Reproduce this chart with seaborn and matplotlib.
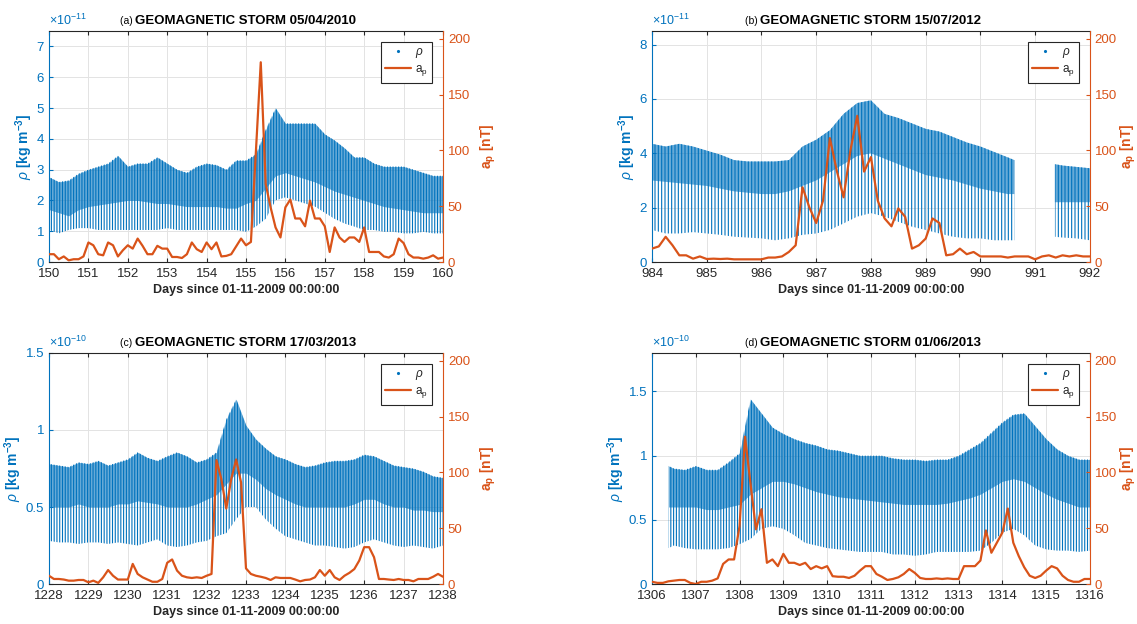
import numpy as np
import matplotlib

matplotlib.use("Agg")

import matplotlib.pyplot as plt
import seaborn as sns
from matplotlib.lines import Line2D
from matplotlib.ticker import FuncFormatter

# ---------------------------------------------------------------------------
# ap index, 3-hourly (nT)
# ---------------------------------------------------------------------------
AP_A_START = 150.0
AP_A = [
    7, 7, 2.5, 5, 1.5, 2.5, 2.5, 5,
    17.5, 15, 7, 6, 17.5, 15, 5, 10.5,
    15, 12, 21, 14.5, 7, 7, 14.5, 12,
    12, 4.5, 4.5, 3.6, 7, 17.5, 11.5, 9,
    17.5, 11.5, 17.5, 5, 5.5, 7, 14, 21,
    15, 18, 98, 179, 70, 49, 31, 22,
    49, 56, 39, 39, 32, 55, 39, 39,
    32, 9, 31, 22, 18, 22, 22, 18,
    31, 9, 9, 9, 5, 4, 7, 21,
    17, 7, 4, 4, 3, 4, 6, 3,
    4,
]
AP_B_START = 984.0
AP_B = [
    12, 14, 22.6, 15, 6, 6, 3, 5,
    2.7, 3, 2.7, 3, 2.4, 2.4, 2.4, 2.4,
    2.4, 4, 4, 5, 9, 15, 67, 49,
    35, 55, 111, 82, 58, 100, 131, 81,
    94, 55, 39, 32, 48, 40.5, 12, 15,
    21, 39, 35, 6, 7, 12, 7, 9,
    5, 5, 5, 5, 4, 5, 5, 5,
    2.4, 5, 6, 4, 6, 5, 6, 5,
    5,
]
AP_C_START = 1228.0
AP_C = [
    7.4, 4.5, 4.5, 4, 3, 3, 3.6, 3.6,
    1.5, 3, 1, 6, 12.5, 7.4, 4, 4,
    4, 18, 9, 6, 4, 2, 2, 4.5,
    19, 22, 12, 7.4, 6, 5.4, 6, 5.4,
    7.4, 9, 111, 94, 67.6, 94, 111.6, 91,
    14, 9, 7.4, 6.5, 5.4, 3.6, 6, 5.4,
    5.4, 5.4, 4, 2.4, 3.6, 4, 6, 12.5,
    7.4, 12.5, 6, 3.6, 7.4, 10, 13.4, 21,
    33, 33, 24, 4.5, 4.5, 4, 3.6, 4.5,
    3.6, 3.6, 2.4, 4.5, 4.5, 4.5, 6.5, 9,
    6.5,
]
AP_D_START = 1306.0
AP_D = [
    2, 1, 1, 2.4, 3, 3.6, 3.6, 1,
    0, 2, 2, 3, 5, 18, 22, 22,
    52, 132, 90, 49, 67, 19, 22, 16,
    27, 19, 19, 17, 19, 13.4, 16, 14,
    16, 7, 6.5, 6.5, 5.4, 7.4, 12, 16,
    16, 9, 6.5, 3.6, 4.5, 6, 9, 13.4,
    10, 5.4, 4.5, 4.5, 5, 4.5, 5, 4.5,
    4.5, 16, 16, 16, 21, 48, 28, 37,
    46, 67.6, 37, 25, 15, 7.4, 5.4, 7.4,
    12, 16, 14, 7.4, 3.6, 2, 2, 4.5,
    4.5,
]

# ---------------------------------------------------------------------------
# density envelopes (upper edge, lower edge of the dense core, lower edge of
# the orbit stripes), in units of the axis exponent
# ---------------------------------------------------------------------------
RHO_A_T = [150 + 0.25 * k for k in range(41)]
RHO_A_HI = [2.76, 2.6, 2.65, 2.87, 3.0, 3.1, 3.2, 3.45, 3.1, 3.2, 3.2, 3.4,
            3.2, 3.0, 2.9, 3.1, 3.2, 3.15, 3.0, 3.3, 3.3, 3.5, 4.3, 5.0, 4.5,
            4.5, 4.5, 4.5, 4.15, 3.95, 3.7, 3.4, 3.4, 3.2, 3.1, 3.1, 3.1, 3.0,
            2.9, 2.8, 2.8]
RHO_A_MID = [1.7, 1.6, 1.5, 1.7, 1.8, 1.85, 1.9, 1.95, 2.0, 2.0, 1.95, 1.9,
             1.9, 1.85, 1.8, 1.8, 1.8, 1.8, 1.75, 1.75, 1.9, 2.0, 2.4, 2.8,
             2.9, 2.8, 2.7, 2.6, 2.45, 2.3, 2.2, 2.1, 2.0, 1.9, 1.8, 1.75,
             1.7, 1.65, 1.6, 1.6, 1.6]
RHO_A_LO = [1.04, 0.93, 1.04, 1.1, 1.1, 1.04, 1.04, 1.04, 1.04, 1.04, 1.04,
            1.04, 1.1, 1.04, 1.04, 1.04, 1.04, 1.04, 1.04, 1.04, 0.98, 1.15,
            1.4, 2.0, 2.1, 2.0, 1.9, 1.8, 1.6, 1.4, 1.25, 1.15, 1.04, 1.04,
            0.98, 0.98, 0.93, 0.93, 0.98, 0.93, 0.93]

RHO_B_T = [984 + 0.25 * k for k in range(27)] + [990.62, 991.0, 991.36, 991.5, 991.75, 992.0]
RHO_B_HI = [4.35, 4.25, 4.35, 4.25, 4.1, 3.95, 3.75, 3.7, 3.7, 3.7, 3.75,
            4.25, 4.5, 4.85, 5.45, 5.85, 5.95, 5.45, 5.3, 5.1, 4.9, 4.8, 4.6,
            4.4, 4.25, 4.05, 3.85, 3.75, np.nan, 3.6, 3.55, 3.5, 3.45]
RHO_B_MID = [3.0, 2.95, 2.9, 2.85, 2.8, 2.7, 2.6, 2.55, 2.5, 2.5, 2.6, 2.8,
             3.0, 3.3, 3.6, 3.9, 4.0, 3.8, 3.6, 3.4, 3.2, 3.1, 3.0, 2.85,
             2.7, 2.6, 2.5, 2.5, np.nan, 2.2, 2.2, 2.2, 2.2]
RHO_B_LO = [1.18, 1.05, 1.05, 1.1, 1.05, 1.0, 0.93, 0.9, 0.87, 0.8, 0.87,
            1.0, 1.05, 1.18, 1.42, 1.67, 1.8, 1.67, 1.48, 1.3, 1.18, 1.05,
            0.93, 0.87, 0.87, 0.8, 0.8, 0.8, np.nan, 0.93, 0.9, 0.87, 0.8]

RHO_C_T = [1228 + 0.25 * k for k in range(41)]
RHO_C_HI = [0.78, 0.77, 0.76, 0.79, 0.78, 0.8, 0.77, 0.79, 0.81, 0.855, 0.82,
            0.8, 0.83, 0.855, 0.83, 0.79, 0.81, 0.855, 1.07, 1.2, 1.03, 0.94,
            0.88, 0.83, 0.81, 0.78, 0.76, 0.77, 0.79, 0.8, 0.8, 0.81, 0.84,
            0.83, 0.8, 0.77, 0.76, 0.75, 0.73, 0.70, 0.69]
RHO_C_MID = [0.5, 0.5, 0.5, 0.52, 0.5, 0.5, 0.5, 0.52, 0.52, 0.54, 0.53,
             0.52, 0.5, 0.5, 0.5, 0.52, 0.55, 0.58, 0.65, 0.72, 0.72, 0.68,
             0.62, 0.58, 0.55, 0.52, 0.5, 0.5, 0.5, 0.5, 0.5, 0.52, 0.55,
             0.55, 0.52, 0.5, 0.5, 0.48, 0.48, 0.47, 0.47]
RHO_C_LO = [0.28, 0.27, 0.27, 0.26, 0.27, 0.27, 0.26, 0.27, 0.26, 0.25, 0.27,
            0.29, 0.25, 0.24, 0.25, 0.27, 0.28, 0.31, 0.33, 0.42, 0.5, 0.5,
            0.42, 0.36, 0.31, 0.29, 0.27, 0.25, 0.25, 0.24, 0.23, 0.24, 0.27,
            0.29, 0.27, 0.25, 0.24, 0.25, 0.24, 0.23, 0.25]

RHO_D_T = [1306.38] + [1306.5 + 0.25 * k for k in range(39)]
RHO_D_HI = [0.92, 0.9, 0.89, 0.92, 0.89, 0.89, 0.95, 1.02, 1.44, 1.33, 1.22,
            1.17, 1.13, 1.1, 1.08, 1.05, 1.04, 1.02, 1.0, 1.0, 1.0, 0.98,
            0.97, 0.97, 0.96, 0.97, 0.97, 1.0, 1.05, 1.1, 1.18, 1.26, 1.32,
            1.33, 1.23, 1.13, 1.05, 1.0, 0.97, 0.97]
RHO_D_MID = [0.6, 0.6, 0.6, 0.6, 0.58, 0.58, 0.6, 0.62, 0.7, 0.75, 0.8, 0.8,
             0.78, 0.75, 0.72, 0.7, 0.68, 0.67, 0.66, 0.65, 0.64, 0.63, 0.62,
             0.62, 0.62, 0.62, 0.63, 0.65, 0.67, 0.7, 0.75, 0.8, 0.82, 0.8,
             0.75, 0.7, 0.66, 0.63, 0.6, 0.6]
RHO_D_LO = [0.28, 0.3, 0.28, 0.27, 0.27, 0.27, 0.28, 0.31, 0.35, 0.43, 0.45,
            0.43, 0.38, 0.32, 0.3, 0.28, 0.27, 0.26, 0.25, 0.25, 0.25, 0.23,
            0.23, 0.22, 0.23, 0.25, 0.25, 0.25, 0.25, 0.26, 0.32, 0.4, 0.43,
            0.38, 0.3, 0.27, 0.26, 0.26, 0.25, 0.26]

PANEL_LETTERS = ["(a)", "(b)", "(c)", "(d)"]
STORM_DATES = ["05/04/2010", "15/07/2012", "17/03/2013", "01/06/2013"]
X_RANGES = [(150, 160), (984, 992), (1228, 1238), (1306, 1316)]
RHO_YMAX = [7.5, 8.5, 1.5, 1.8]
RHO_TICKS = [[0, 1, 2, 3, 4, 5, 6, 7], [0, 2, 4, 6, 8], [0, 0.5, 1, 1.5], [0, 0.5, 1, 1.5]]
RHO_EXP = [-11, -11, -10, -10]
AP_TICKS = [0, 50, 100, 150, 200]

BLUE = "#0072BD"
ORANGE = "#D95319"
DARK = "#262626"

sns.set_style("whitegrid")
plt.rcParams["font.family"] = ["Liberation Sans", "DejaVu Sans"]
plt.rcParams["mathtext.fontset"] = "custom"
plt.rcParams["mathtext.rm"] = "Liberation Sans"
plt.rcParams["mathtext.it"] = "Liberation Sans:italic"
plt.rcParams["mathtext.bf"] = "Liberation Sans:bold"
plt.rcParams["hatch.linewidth"] = 0.8

fig = plt.figure(figsize=(11.37, 6.24), dpi=100)
positions = [
    [0.0431, 0.5801, 0.3465, 0.3702],
    [0.5734, 0.5801, 0.3852, 0.3702],
    [0.0431, 0.0641, 0.3465, 0.3702],
    [0.5734, 0.0641, 0.3852, 0.3702],
]
ap_data = [(AP_A_START, AP_A), (AP_B_START, AP_B), (AP_C_START, AP_C), (AP_D_START, AP_D)]
rho_data = [
    (RHO_A_T, RHO_A_HI, RHO_A_MID, RHO_A_LO),
    (RHO_B_T, RHO_B_HI, RHO_B_MID, RHO_B_LO),
    (RHO_C_T, RHO_C_HI, RHO_C_MID, RHO_C_LO),
    (RHO_D_T, RHO_D_HI, RHO_D_MID, RHO_D_LO),
]
hatches = ["||||||", "|||||", "||||||", "||||||"]
ap_label_pads = [6, 1, 6, 1]

fmt = FuncFormatter(lambda v, _: f"{v:g}")

for i in range(4):
    ax = fig.add_axes(positions[i])
    ax2 = ax.twinx()

    # density: dense core plus orbit stripes
    t, hi, mid, lo = (np.array(a, dtype=float) for a in rho_data[i])
    ax.fill_between(t, mid, hi, color=BLUE, alpha=0.6, lw=0)
    ax.fill_between(t, lo, hi, facecolor="none", edgecolor=BLUE, hatch=hatches[i], lw=0)

    # ap line
    start, vals = ap_data[i]
    ap_t = start + 0.125 * np.arange(len(vals))
    sns.lineplot(x=ap_t, y=vals, ax=ax2, color=ORANGE, lw=1.6, legend=False)

    x0, x1 = X_RANGES[i]
    ax.set_xlim(x0, x1)
    ax.set_xticks(range(x0, x1 + 1))
    ax.set_ylim(0, RHO_YMAX[i])
    ax.set_yticks(RHO_TICKS[i])
    ax.yaxis.set_major_formatter(fmt)
    ax2.set_ylim(0, 207)
    ax2.set_yticks(AP_TICKS)

    ax.grid(True, color="#e3e3e3", lw=0.7)
    ax2.grid(False)
    ax.tick_params(axis="x", direction="in", length=3, bottom=True, top=True,
                   colors=DARK, labelsize=9.5, pad=4)
    ax.tick_params(axis="y", direction="in", length=3, left=True, colors=BLUE,
                   labelsize=9.5)
    ax2.tick_params(axis="y", direction="in", length=3, right=True, colors=ORANGE,
                    labelsize=9.5)

    for s in ["top", "bottom"]:
        ax.spines[s].set_color(DARK)
        ax.spines[s].set_linewidth(0.8)
        ax2.spines[s].set_visible(False)
    ax.spines["left"].set_color(BLUE)
    ax.spines["right"].set_visible(False)
    ax2.spines["left"].set_visible(False)
    ax2.spines["right"].set_color(ORANGE)

    ax.set_xlabel("Days since 01-11-2009 00:00:00", fontsize=9, fontweight="bold",
                  color=DARK, labelpad=3)
    ax.set_ylabel(r"$\rho$ [kg m$^{\mathbf{-3}}$]", fontsize=10, fontweight="bold",
                  color=BLUE, labelpad=1)
    ax2.set_ylabel(r"a$_\mathbf{p}$ [nT]", fontsize=10, fontweight="bold",
                   color=ORANGE, labelpad=ap_label_pads[i])

    ax.text(0.0, 1.012, r"$\times$10$^{%d}$" % RHO_EXP[i], transform=ax.transAxes,
            color=BLUE, fontsize=9, ha="left", va="bottom")

    ttl = ax.set_title(f"GEOMAGNETIC STORM {STORM_DATES[i]}", fontsize=9.5,
                       fontweight="bold", color="black", pad=5)
    ax.annotate(PANEL_LETTERS[i] + " ", xy=(0, 0.08), xycoords=ttl, ha="right",
                va="bottom", fontsize=7.5, color="black")

    handles = [
        Line2D([], [], ls="none", marker=".", markersize=2.5, color=BLUE, label=r"$\rho$"),
        Line2D([], [], color=ORANGE, lw=1.6, label=r"a$_\mathrm{p}$"),
    ]
    leg = ax2.legend(handles=handles, loc="upper right", fontsize=8.5, frameon=True,
                     fancybox=False, framealpha=1, edgecolor=DARK, handlelength=2.2,
                     borderaxespad=0.9, borderpad=0.35, labelspacing=0.3,
                     handletextpad=0.4)
    leg.get_frame().set_linewidth(0.8)

fig.savefig("out.png", dpi=100)
